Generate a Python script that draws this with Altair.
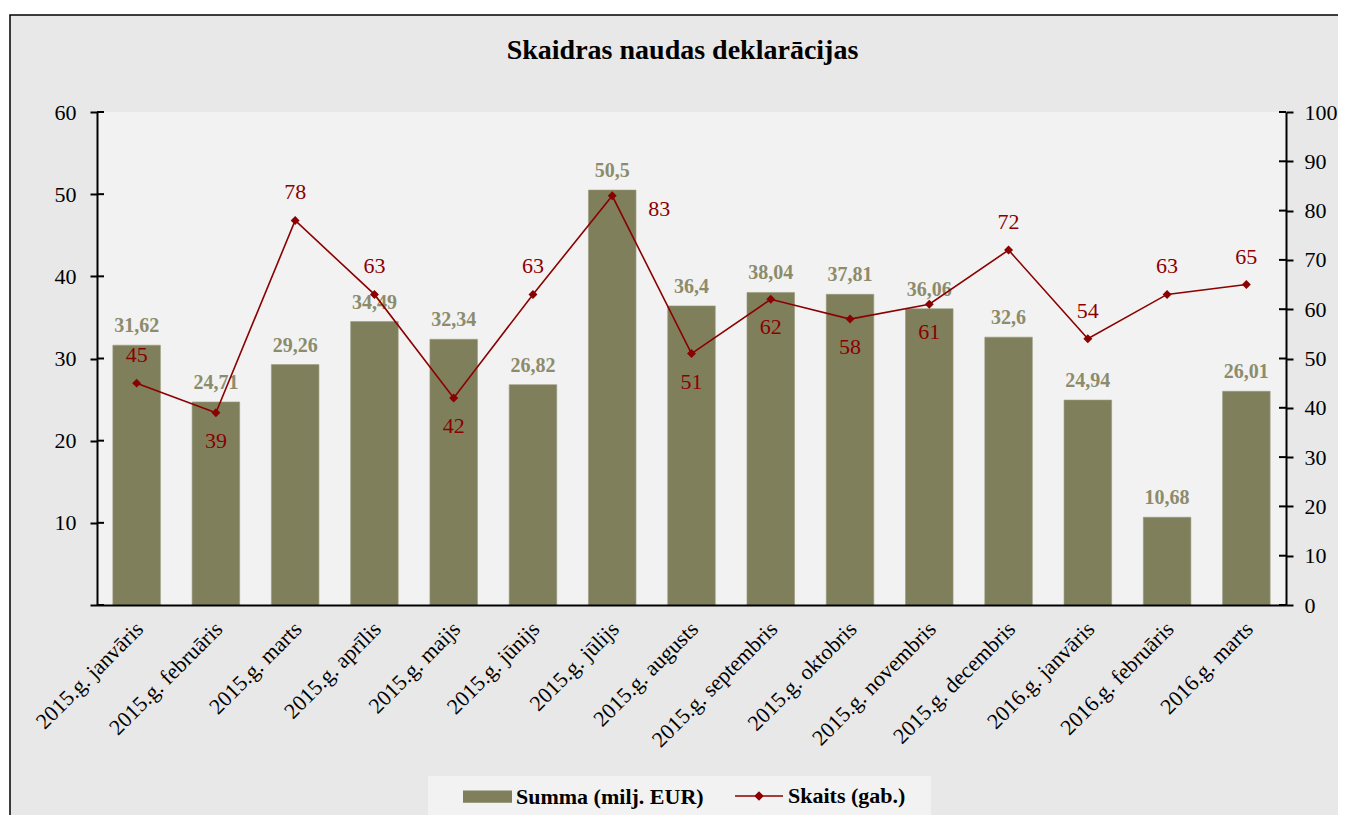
import altair as alt
import pandas as pd

months = ["2015.g. janvāris", "2015.g. februāris", "2015.g. marts", "2015.g. aprīlis",
          "2015.g. maijs", "2015.g. jūnijs", "2015.g. jūlijs", "2015.g. augusts",
          "2015.g. septembris", "2015.g. oktobris", "2015.g. novembris", "2015.g. decembris",
          "2016.g. janvāris", "2016.g. februāris", "2016.g. marts"]
summa = [31.62, 24.71, 29.26, 34.49, 32.34, 26.82, 50.5, 36.4, 38.04, 37.81, 36.06, 32.6, 24.94, 10.68, 26.01]
skaits = [45, 39, 78, 63, 42, 63, 83, 51, 62, 58, 61, 72, 54, 63, 65]
skaits_pos = ["above", "below", "above", "above", "below", "above", "right", "below",
              "below", "below", "below", "above", "above", "above", "above"]
left_ticks = [0, 10, 20, 30, 40, 50, 60]
right_ticks = [0, 10, 20, 30, 40, 50, 60, 70, 80, 90, 100]
series_bar = "Summa (milj. EUR)"
series_line = "Skaits (gab.)"

df = pd.DataFrame({"month": months, "summa": summa, "skaits": skaits, "pos": skaits_pos})
df["summa_lbl"] = [f"{v:g}".replace(".", ",") for v in summa]
df["s1"] = series_bar
df["s2"] = series_line
one = pd.DataFrame({"a": [0]})
lt = pd.DataFrame({"summa": left_ticks})
rt = pd.DataFrame({"skaits": right_ticks})

W, H = 1189, 493
FONT = "Liberation Serif"
OLIVE = "#7f7f5b"
RED = "#8b0000"

x = alt.X("month:N", sort=months,
          scale=alt.Scale(domain=months, paddingInner=0.4, paddingOuter=0.2),
          axis=alt.Axis(title=None, labelAngle=-45, labelAlign="right", labelBaseline="middle",
                        labelFont=FONT, labelFontSize=22, labelColor="black", labelPadding=20,
                        labelOffset=3, labelLimit=400, ticks=False, domainColor="black",
                        domainWidth=2, zindex=1))

yl = alt.Y("summa:Q", scale=alt.Scale(domain=[0, 60]),
           axis=alt.Axis(title=None, values=left_ticks, orient="left",
                         labelExpr="datum.value == 0 ? '' : datum.label",
                         grid=False, tickSize=7, tickWidth=2, tickColor="black",
                         domainColor="black", domainWidth=2, labelFont=FONT, labelFontSize=22,
                         labelColor="black", labelPadding=14, zindex=1))

yr = alt.Y("skaits:Q", scale=alt.Scale(domain=[0, 100]),
           axis=alt.Axis(title=None, values=right_ticks, orient="right",
                         grid=False, tickSize=7, tickWidth=2, tickColor="black",
                         domainColor="black", domainWidth=2, labelFont=FONT, labelFontSize=22,
                         labelColor="black", labelPadding=11, zindex=1))

border = alt.Chart(one).mark_rect(fill="#e8e8e8", stroke="black", strokeWidth=1.5).encode(
    x=alt.value(-87), x2=alt.value(1300), y=alt.value(-97), y2=alt.value(760))
plotbg = alt.Chart(one).mark_rect(fill="#f2f2f2").encode(
    x=alt.value(0), x2=alt.value(W), y=alt.value(0), y2=alt.value(H))
legbox = alt.Chart(one).mark_rect(fill="#f2f2f2").encode(
    x=alt.value(331), x2=alt.value(834), y=alt.value(664), y2=alt.value(703))

# inner halves of the crossing axis ticks
lticks_in = alt.Chart(lt).mark_rule(color="black", strokeWidth=2).encode(
    y=yl, x=alt.value(0), x2=alt.value(7))
rticks_in = alt.Chart(rt).mark_rule(color="black", strokeWidth=2).encode(
    y=yr, x=alt.value(W - 7), x2=alt.value(W))

base = alt.Chart(df)

bars = base.mark_bar(stroke="#9a9a80", strokeWidth=0.6).encode(
    x=x, y=yl,
    fill=alt.Fill("s1:N",
                  scale=alt.Scale(domain=[series_bar], range=[OLIVE]),
                  legend=alt.Legend(title=None, orient="none", legendX=366, legendY=660,
                                    symbolType="M-1,-0.25H1V0.25H-1Z", symbolSize=2401,
                                    symbolStrokeWidth=0, symbolOpacity=1, labelLimit=400,
                                    labelFont=FONT, labelFontSize=22, labelFontWeight="bold",
                                    labelColor="black", labelOffset=4, padding=0)))

bartext = base.mark_text(font=FONT, fontSize=20, fontWeight="bold", color="#8c8c6c",
                         baseline="alphabetic", dy=-13).encode(
    x=x, y=yl, text="summa_lbl:N")

line = base.mark_line(color=RED, strokeWidth=1.6).encode(x=x, y=yr)

points = base.mark_point(filled=True, shape="diamond", size=80, opacity=1).encode(
    x=x, y=yr,
    color=alt.Color("s2:N",
                    scale=alt.Scale(domain=[series_line], range=[RED]),
                    legend=alt.Legend(title=None, orient="none", legendX=638, legendY=660,
                                      symbolType="M-1,-0.03H1V0.03H-1Z M0,-0.2L0.2,0L0,0.2L-0.2,0Z",
                                      symbolSize=2304, symbolStrokeWidth=0, symbolOpacity=1,
                                      labelLimit=400,
                                      labelFont=FONT, labelFontSize=22, labelFontWeight="bold",
                                      labelColor="black", labelOffset=5, padding=0)))

def lbl(pos, **kw):
    return base.transform_filter(alt.datum.pos == pos).mark_text(
        font=FONT, fontSize=22, color=RED, baseline="middle", **kw).encode(
        x=x, y=yr, text="skaits:Q")

t_above = lbl("above", dy=-28)
t_below = lbl("below", dy=28)
t_right = lbl("right", dx=47, dy=13)

left = alt.layer(border, plotbg, legbox, lticks_in, bars, bartext)
right = alt.layer(rticks_in, line, points, t_above, t_below, t_right)

chart = alt.layer(left, right).resolve_scale(y="independent").properties(
    width=W, height=H,
    title=alt.TitleParams("Skaidras naudas deklarācijas", font=FONT, fontSize=28,
                          fontWeight="bold", color="black", anchor="middle", dx=-9,
                          baseline="alphabetic", offset=-73),
    padding={"left": 89, "top": 104, "right": 52, "bottom": 210},
    autosize=alt.AutoSizeParams(type="none"),
    background="white",
).configure_view(stroke=None)

chart.save("out.html", embed_options={"renderer": "svg", "actions": False})
